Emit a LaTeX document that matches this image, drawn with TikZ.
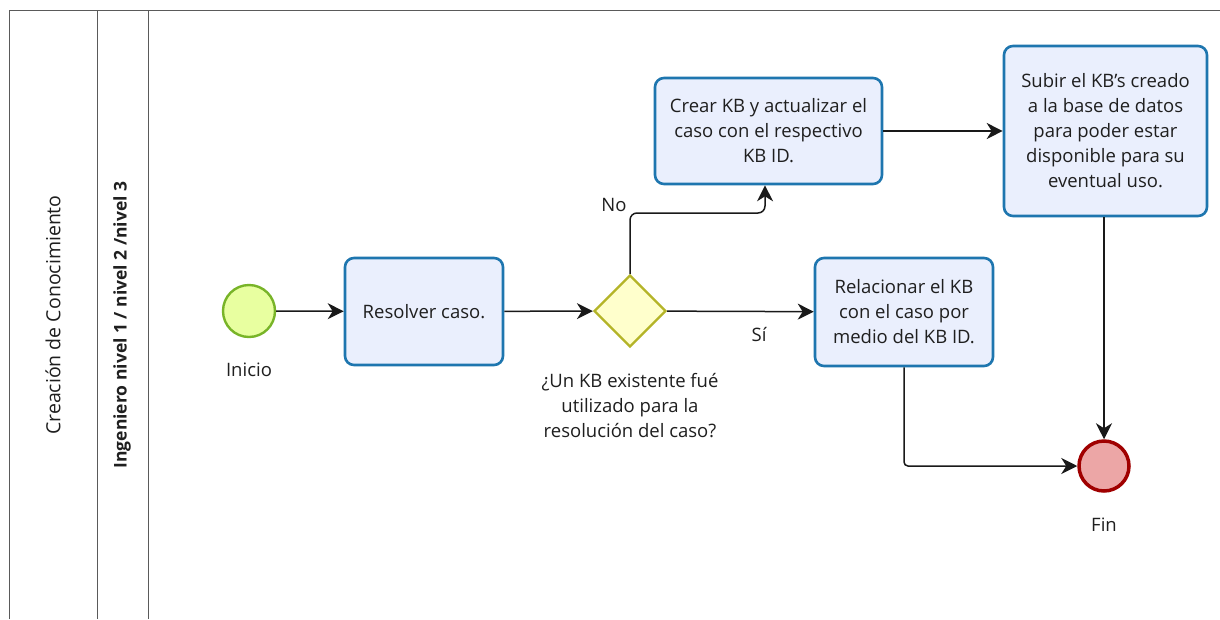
\documentclass[tikz,border=0pt]{standalone}
\usepackage{fontspec}
\setmainfont{Open Sans}
\usetikzlibrary{arrows.meta,shapes.geometric}
\definecolor{taskblue}{RGB}{30,118,175}
\definecolor{taskfill}{RGB}{234,239,253}
\definecolor{startfill}{RGB}{232,255,160}
\definecolor{startline}{RGB}{120,180,40}
\definecolor{gwfill}{RGB}{255,255,204}
\definecolor{gwline}{RGB}{180,180,40}
\definecolor{endfill}{RGB}{236,166,166}
\definecolor{endline}{RGB}{160,0,0}
\definecolor{poolline}{RGB}{90,90,90}
\begin{document}
\begin{tikzpicture}[x=1pt,y=-1pt,
  txt/.style={font=\fontsize{18.5}{25}\selectfont, align=center, inner sep=0pt, text=black!88},
  task/.style={txt, draw=taskblue, line width=2.6pt, fill=taskfill, rounded corners=9pt},
  startev/.style={circle, draw=startline, line width=2.4pt, fill=startfill, minimum size=52pt, inner sep=0pt},
  endev/.style={circle, draw=endline, line width=3.5pt, fill=endfill, minimum size=50pt, inner sep=0pt},
  gateway/.style={diamond, aspect=1, draw=gwline, line width=2.4pt, fill=gwfill, minimum size=72pt, inner sep=0pt},
  flow/.style={draw=black!90, line width=1.5pt, -{Stealth[length=16pt,width=16pt,inset=5pt]}},
  pool/.style={draw=poolline, line width=1pt}]
\useasboundingbox (0,0) rectangle (1220,619);
\fill[white] (0,0) rectangle (1220,619);
% pool and lanes
\draw[pool] (9,619) -- (9,10) -- (1220,10);
\draw[pool] (97,10) -- (97,619);
\draw[pool] (148,10) -- (148,619);
\node[txt, rotate=90, font=\fontsize{19.5}{25}\selectfont] (poolname) at (53,315) {Creación de Conocimiento};
\node[txt, rotate=90, font=\bfseries\fontsize{17.5}{25}\selectfont] (lanename) at (122,325) {Ingeniero nivel 1 / nivel 2 /nivel 3};
% nodes
\node[startev] (start) at (249,311) {};
\node[txt] (startlbl) at (249,370) {Inicio};
\node[task, minimum width=158pt, minimum height=107pt] (resolver) at (424,311.5) {Resolver caso.};
\node[gateway] (gw) at (630,311) {};
\node[txt] (gwlbl) at (630,406) {¿Un KB existente fué\\utilizado para la\\resolución del caso?};
\node[task, minimum width=227pt, minimum height=106pt] (crear) at (768.5,131) {Crear KB y actualizar el\\caso con el respectivo\\KB ID.};
\node[task, minimum width=203pt, minimum height=170pt] (subir) at (1105.5,131) {Subir el KB's creado\\a la base de datos\\para poder estar\\disponible para su\\eventual uso.};
\node[task, minimum width=178pt, minimum height=108pt] (relac) at (904,312) {Relacionar el KB\\con el caso por\\medio del KB ID.};
\node[endev] (end) at (1104,466) {};
\node[txt] (endlbl) at (1104,525) {Fin};
\node[txt] (nolbl) at (614,205) {No};
\node[txt] (silbl) at (759,334) {Sí};
% connectors
\coordinate (nobend) at (765,213);
\draw[flow] (start) -- (resolver);
\draw[flow] (resolver) -- (gw);
\draw[flow] (gw) -- (relac);
\draw[flow, rounded corners=7pt] (gw.north) |- (nobend) -- (nobend |- crear.south);
\draw[flow] (crear.east) -- (crear.east -| subir.west);
\draw[flow] (subir.south -| end) -- (end.north);
\draw[flow, rounded corners=4pt] (relac.south) |- (end.west);
\end{tikzpicture}
\end{document}
